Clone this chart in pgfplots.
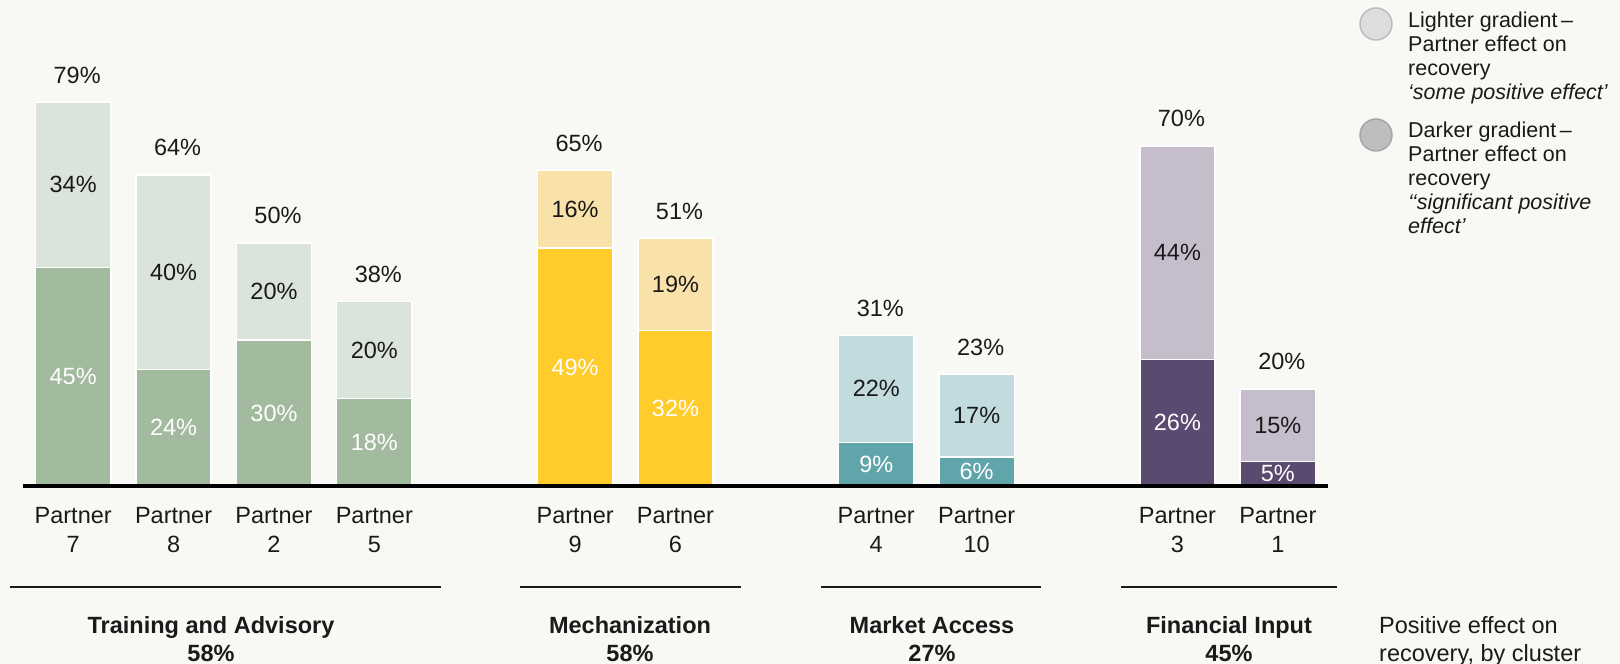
\documentclass[border=0pt]{standalone}
\usepackage{pgfplots}
\pgfplotsset{compat=1.18}
\usepackage{pgfplotstable}
\usepackage{fontspec}
\setmainfont{Liberation Sans}

\definecolor{bg}{HTML}{F8F8F4}
\definecolor{txt}{HTML}{1A1A1A}
\definecolor{grD}{HTML}{A2BA9E}
\definecolor{grL}{HTML}{DBE4DA}
\definecolor{yeD}{HTML}{FFCC2B}
\definecolor{yeL}{HTML}{F8E2AA}
\definecolor{teD}{HTML}{60A5AA}
\definecolor{teL}{HTML}{C1DBDF}
\definecolor{puD}{HTML}{5B4A6F}
\definecolor{puL}{HTML}{C5BDCB}
\definecolor{lgL}{HTML}{DDDDDF}
\definecolor{lgD}{HTML}{BEBEBE}

\newcommand\valfont{\fontsize{23.5}{29}\selectfont}
\newcommand\legfont{\fontsize{21.5}{24}\selectfont}

% dark = "significant positive effect", light = "some positive effect"
\pgfplotstableread{
x dark light total
0 45 34 79
1 24 40 64
2 30 20 50
3 18 20 38
}\training
\pgfplotstableread{
x dark light total
5 49 16 65
6 32 19 51
}\mechan
\pgfplotstableread{
x dark light total
8 9 22 31
9 6 17 23
}\market
\pgfplotstableread{
x dark light total
11 26 44 70
12 5 15 20
}\financial

% #1 table, #2 dark colour, #3 light colour
\newcommand\cluster[3]{%
  \addplot[ybar, bar width=0.75, bar shift=0pt, fill=#3, draw=white, line width=1.5pt,
    point meta=explicit, nodes near coords={\pgfmathprintnumber{\pgfplotspointmeta}\%},
    every node near coord/.append style={anchor=base, yshift=19pt, xshift=4pt, text=txt, font=\valfont, inner sep=0pt}]
    table[x=x, y=total, meta=total] {#1};
  \addplot[ybar, bar width=0.75, bar shift=0pt, fill=#2, draw=white, line width=1.5pt]
    table[x=x, y=dark] {#1};
  \addplot[only marks, mark=*, mark size=0pt, draw=none,
    point meta=explicit, nodes near coords={\pgfmathprintnumber{\pgfplotspointmeta}\%},
    every node near coord/.append style={anchor=center, text=white, font=\valfont, inner sep=0pt}]
    table[x=x, y expr=\thisrow{dark}/2, meta=dark] {#1};
  \addplot[only marks, mark=*, mark size=0pt, draw=none,
    point meta=explicit, nodes near coords={\pgfmathprintnumber{\pgfplotspointmeta}\%},
    every node near coord/.append style={anchor=center, text=txt, font=\valfont, inner sep=0pt}]
    table[x=x, y expr=\thisrow{dark}+\thisrow{light}/2, meta=light] {#1};
}

\begin{document}
\begin{tikzpicture}
\fill[bg] (-23pt,-178pt) rectangle (1597pt,486pt);
\path[use as bounding box] (-23pt,-178pt) rectangle (1597pt,486pt);
\begin{axis}[
    scale only axis,
    width=1305pt, height=486pt,
    xmin=-0.5, xmax=12.5, ymin=0, ymax=100,
    axis x line*=bottom, axis y line=none,
    x axis line style={line width=4pt, black, -},
    axis on top,
    clip=false,
    xtick={0,1,2,3,5,6,8,9,11,12},
    xticklabels={{Partner\\7},{Partner\\8},{Partner\\2},{Partner\\5},{Partner\\9},{Partner\\6},{Partner\\4},{Partner\\10},{Partner\\3},{Partner\\1}},
    xticklabel style={align=center, font=\valfont, text=txt, inner sep=0pt, anchor=north, yshift=-21pt},
    major tick length=0pt,
    /pgf/number format/assume math mode=true,
  ]
  \cluster{\training}{grD}{grL}
  \cluster{\mechan}{yeD}{yeL}
  \cluster{\market}{teD}{teL}
  \cluster{\financial}{puD}{puL}
\end{axis}

% cluster brackets and names
\draw[line width=1.5pt, txt] (-13pt,-101pt) -- (418pt,-101pt);
\draw[line width=1.5pt, txt] (497pt,-101pt) -- (718pt,-101pt);
\draw[line width=1.5pt, txt] (798pt,-101pt) -- (1018pt,-101pt);
\draw[line width=1.5pt, txt] (1098pt,-101pt) -- (1314pt,-101pt);
\begin{scope}[every node/.style={anchor=base, inner sep=0pt, text=txt, font=\valfont\bfseries}]
  \node at (188pt,-147.5pt) {Training and Advisory};
  \node at (188pt,-175.5pt) {58\%};
  \node at (607pt,-147.5pt) {Mechanization};
  \node at (607pt,-175.5pt) {58\%};
  \node at (909pt,-147.5pt) {Market Access};
  \node at (909pt,-175.5pt) {27\%};
  \node at (1206pt,-147.5pt) {Financial Input};
  \node at (1206pt,-175.5pt) {45\%};
\end{scope}
\begin{scope}[every node/.style={anchor=base west, inner sep=0pt, text=txt, font=\valfont}]
  \node at (1356pt,-147.5pt) {Positive effect on};
  \node at (1356pt,-175.5pt) {recovery, by cluster};
\end{scope}

% legend
\filldraw[fill=lgL, draw=lgL!85!black, line width=1.5pt] (1353pt,462pt) circle (16pt);
\filldraw[fill=lgD, draw=lgD!88!black, line width=1.5pt] (1353pt,351pt) circle (16pt);
\begin{scope}[every node/.style={anchor=base west, inner sep=0pt, text=txt, font=\legfont}]
  \node at (1385pt,458.5pt) {Lighter gradient\,--};
  \node at (1385pt,434.5pt) {Partner effect on};
  \node at (1385pt,410.5pt) {recovery};
  \node at (1385pt,386.5pt) {\itshape ‘some positive effect’};
  \node at (1385pt,348pt) {Darker gradient\,--};
  \node at (1385pt,324pt) {Partner effect on};
  \node at (1385pt,300pt) {recovery};
  \node at (1385pt,276pt) {\itshape ‘{}‘significant positive};
  \node at (1385pt,252pt) {\itshape effect’};
\end{scope}
\end{tikzpicture}
\end{document}
